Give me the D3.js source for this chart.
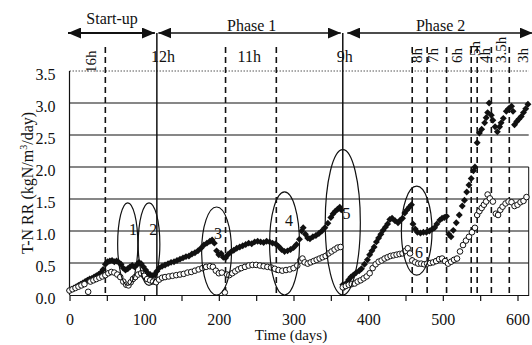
<!DOCTYPE html>
<html>
<head>
<meta charset="utf-8">
<script src="https://cdn.jsdelivr.net/npm/d3@7"></script>
<style>
  body { margin: 0; background: #fff; }
  text { font-family: "Liberation Serif", "Times New Roman", serif; fill: #111; }
</style>
</head>
<body>
<svg width="532" height="345"></svg>
<script>
// filled diamonds
const daysA = [0,3,6,9,12,15,18,21,24,27,30,33,36,39,42,45,48,51,54,57,60,63,66,69,72,75,78,81,84,87,90,93,96,99,102,105,108,111,114,117,120,124,128,132,136,140,144,148,152,156,160,164,168,172,176,180,184,188,191,194,197,200,203,206,209,212,216,220,224,228,232,236,240,244,248,252,256,260,264,268,272,276,280,284,288,292,296,300,304,308,311,313,316,319,322,326,330,334,338,342,346,350,353,356,359,362,364,366,368,371,374,377,380,384,388,391,395,399,402,405,408,411,414,417,420,423,426,429,432,436,440,443,446,449,452,455,458,460,463,466,470,474,478,482,486,489,492,496,499,502,505,508,511,514,518,522,526,529,532,535,538,541,543,546,549,552,556,558,560,562,565,567,570,573,576,578,581,585,588,592,594,596,599,602,605,608,611,614]
const rateA = [0.07,0.09,0.11,0.13,0.15,0.17,0.19,0.21,0.23,0.25,0.26,0.28,0.30,0.32,0.35,0.40,0.48,0.52,0.53,0.54,0.52,0.53,0.51,0.48,0.42,0.39,0.41,0.44,0.46,0.44,0.47,0.51,0.49,0.44,0.39,0.34,0.32,0.30,0.32,0.37,0.42,0.45,0.47,0.49,0.51,0.52,0.54,0.56,0.58,0.60,0.61,0.64,0.66,0.69,0.73,0.78,0.81,0.84,0.86,0.81,0.69,0.63,0.65,0.59,0.58,0.63,0.67,0.70,0.73,0.75,0.77,0.79,0.81,0.80,0.83,0.84,0.83,0.82,0.84,0.83,0.81,0.80,0.76,0.71,0.68,0.69,0.71,0.74,0.79,0.87,1.00,1.05,0.95,0.89,0.88,0.91,0.93,0.96,1.00,1.05,1.12,1.21,1.27,1.31,1.34,1.37,1.33,0.16,0.12,0.19,0.24,0.28,0.31,0.35,0.38,0.41,0.48,0.55,0.63,0.69,0.75,0.83,0.89,0.95,1.01,1.06,1.11,1.18,1.20,1.16,1.13,1.17,1.20,1.28,1.33,1.37,1.41,1.11,1.03,0.98,0.97,0.98,0.98,1.00,1.03,1.05,1.11,1.17,1.20,1.21,1.23,0.95,0.91,1.01,1.13,1.25,1.39,1.48,1.61,1.72,1.82,1.94,2.00,2.38,2.53,2.59,2.69,2.77,2.85,3.00,2.81,2.73,2.63,2.55,2.63,2.69,2.76,2.87,2.91,2.95,2.87,2.66,2.71,2.75,2.79,2.85,2.91,2.98]

// open circles
const daysB = [0,4,8,12,16,20,25,28,32,36,40,44,48,52,56,60,64,68,72,76,79,82,85,88,92,96,100,104,108,112,116,120,124,128,133,138,143,148,153,158,163,168,173,178,183,188,192,196,200,204,208,211,214,218,222,226,230,235,240,245,250,255,260,265,270,275,280,285,290,295,300,305,309,312,315,319,323,327,331,335,339,343,347,351,355,359,363,366,370,374,378,382,386,390,394,398,402,406,410,414,418,422,426,430,434,438,442,446,450,453,456,459,463,467,471,475,479,483,487,491,495,499,503,507,511,515,519,523,527,531,535,539,543,546,549,552,555,558,560,563,567,571,574,577,580,584,588,592,596,600,604,608,612]
const rateB = [0.07,0.09,0.11,0.13,0.15,0.17,0.05,0.21,0.23,0.25,0.27,0.29,0.31,0.34,0.36,0.35,0.32,0.28,0.21,0.16,0.15,0.20,0.25,0.28,0.32,0.34,0.30,0.25,0.23,0.21,0.20,0.24,0.27,0.28,0.29,0.30,0.31,0.32,0.33,0.35,0.36,0.38,0.40,0.42,0.44,0.45,0.44,0.38,0.34,0.35,0.04,0.32,0.31,0.34,0.37,0.40,0.42,0.44,0.46,0.47,0.47,0.46,0.45,0.44,0.43,0.41,0.39,0.38,0.39,0.40,0.42,0.46,0.54,0.57,0.51,0.49,0.51,0.53,0.55,0.57,0.59,0.61,0.65,0.68,0.71,0.74,0.75,0.12,0.14,0.16,0.17,0.18,0.21,0.23,0.26,0.29,0.34,0.42,0.48,0.52,0.54,0.57,0.59,0.61,0.62,0.63,0.64,0.65,0.69,0.73,0.65,0.54,0.51,0.49,0.49,0.48,0.49,0.50,0.51,0.53,0.56,0.57,0.53,0.49,0.52,0.55,0.57,0.68,0.78,0.85,0.91,0.98,1.05,1.25,1.31,1.36,1.41,1.46,1.57,1.51,1.46,1.27,1.25,1.33,1.38,1.43,1.46,1.45,1.39,1.41,1.45,1.47,1.53]

const yTicks = [0, 0.5, 1.0, 1.5, 2.0, 2.5, 3.0, 3.5]
const xTicks = [0, 50, 100, 150, 200, 250, 300, 350, 400, 450, 500, 550, 600]

// operating phases
const phaseNames = ["Start-up", "Phase 1", "Phase 2"]
const phaseStart = [0, 117, 370]
const phaseEnd = [117, 366, 623]
const phaseLabelDay = [57, 244, 497]

// HRT change lines
const solidDays = [117, 366]
const dashedDays = [48, 209, 277, 459, 479, 505, 538, 546, 565, 589]
const flatLabels = ["12h", "11h", "9h"]
const flatLabelDay = [109, 225, 358]
const upLabels = ["16h", "8h", "7h", "6h", "5h", "4h", "3.5h", "3h"]
const upLabelDay = [29, 466, 487, 519, 543, 556, 578, 607]

// circled events
const ringIds = ["1", "2", "3", "4", "5", "6"]
const ringDay = [78, 106.5, 197, 288, 366, 465]
const ringHalfDays = [13.5, 14.5, 20, 20, 23.5, 20.5]
const ringTop = [1.44, 1.44, 1.375, 1.61, 2.27, 1.70]
const ringBottom = [0.15, 0.15, 0.0, 0.0, 0.0, 0.31]
const ringLabelDay = [85, 112, 199, 294, 371, 468]
const ringLabelVal = [1.02, 1.02, 0.97, 1.17, 1.28, 0.67]

const svg = d3.select("svg")
const x = d3.scaleLinear().domain([0, 615]).range([69.5, 528.7])
const y = d3.scaleLinear().domain([0, 3.5]).range([295, 71])

// grid
svg.append("g")
  .selectAll("line")
  .data(yTicks.slice(1))
  .enter()
  .append("line")
  .attr("x1", x(0))
  .attr("x2", x(615))
  .attr("y1", (d) => y(d))
  .attr("y2", (d) => y(d))
  .attr("stroke", (d) => (d === 3.5 ? "#555" : "#111"))
  .attr("stroke-width", (d) => (d === 3.5 ? 1 : 1.2))
  .attr("stroke-dasharray", (d) => (d === 3.5 ? "1.5,1.5" : null))

// left and right frame
svg.append("line")
  .attr("x1", x(0)).attr("x2", x(0))
  .attr("y1", y(0)).attr("y2", y(3.5))
  .attr("stroke", "#111").attr("stroke-width", 1.2)
svg.append("line")
  .attr("x1", x(615)).attr("x2", x(615))
  .attr("y1", y(0)).attr("y2", y(2.0))
  .attr("stroke", "#111").attr("stroke-width", 1)

// axes
const xAxis = svg.append("g")
  .attr("transform", "translate(0," + y(0) + ")")
  .call(d3.axisBottom(x).tickValues(xTicks).tickSize(6).tickSizeOuter(0).tickPadding(13)
    .tickFormat((d) => (d % 100 ? "" : d)))
xAxis.selectAll("text").style("font-size", "16px").attr("fill", "#111")
xAxis.selectAll("line, path").attr("stroke", "#111").attr("stroke-width", 1.2)

const yAxis = svg.append("g")
  .attr("transform", "translate(" + x(0) + ",0)")
  .call(d3.axisLeft(y).tickValues(yTicks).tickSize(0).tickPadding(14).tickFormat(d3.format(".1f")))
yAxis.select(".domain").remove()
yAxis.selectAll("text").style("font-size", "16px").attr("fill", "#111").attr("dy", "0.5em")

svg.append("text")
  .attr("x", 291).attr("y", 340)
  .attr("text-anchor", "middle")
  .style("font-size", "15px")
  .text("Time (days)")

const yTitle = svg.append("text")
  .attr("transform", "translate(33,183) rotate(-90)")
  .attr("text-anchor", "middle")
  .style("font-size", "16px")
yTitle.append("tspan").text("T-N RR (kgN/m")
yTitle.append("tspan").attr("dy", -6).style("font-size", "10px").text("3")
yTitle.append("tspan").attr("dy", 6).text("/day)")

// HRT lines
svg.append("g")
  .selectAll("line")
  .data(dashedDays)
  .enter()
  .append("line")
  .attr("x1", (d) => x(d)).attr("x2", (d) => x(d))
  .attr("y1", 47).attr("y2", y(0))
  .attr("stroke", "#111").attr("stroke-width", 1.6)
  .attr("stroke-dasharray", "6,4")

svg.append("g")
  .selectAll("line")
  .data(solidDays)
  .enter()
  .append("line")
  .attr("x1", (d) => x(d)).attr("x2", (d) => x(d))
  .attr("y1", 33).attr("y2", y(0))
  .attr("stroke", "#111").attr("stroke-width", 1.5)

svg.append("g")
  .selectAll("text")
  .data(flatLabels)
  .enter()
  .append("text")
  .attr("x", (d, i) => x(flatLabelDay[i]))
  .attr("y", 62)
  .style("font-size", "16px")
  .text((d) => d)

svg.append("g")
  .selectAll("text")
  .data(upLabels)
  .enter()
  .append("text")
  .attr("transform", (d, i) => "translate(" + (x(upLabelDay[i]) + 5) + "," + (d === "16h" ? 73 : d === "5h" ? 56 : 63) + ") rotate(-90)")
  .style("font-size", "15px")
  .text((d) => d)

// phase arrows
const defs = svg.append("defs")
defs.append("marker")
  .attr("id", "head")
  .attr("viewBox", "0 0 13 11")
  .attr("markerUnits", "userSpaceOnUse")
  .attr("markerWidth", 13).attr("markerHeight", 11)
  .attr("refX", 13).attr("refY", 5.5)
  .attr("orient", "auto-start-reverse")
  .append("path")
  .attr("d", "M0,0L13,5.5L0,11Z")
  .attr("fill", "#111")

svg.append("g")
  .selectAll("line")
  .data(phaseNames)
  .enter()
  .append("line")
  .attr("x1", (d, i) => x(phaseStart[i]) + (i === 0 ? -1.5 : 1.5))
  .attr("x2", (d, i) => x(phaseEnd[i]) - 2)
  .attr("y1", 33).attr("y2", 33)
  .attr("stroke", "#111")
  .attr("stroke-width", (d, i) => (i === 0 ? 2.2 : 1.6))
  .attr("marker-start", "url(#head)")
  .attr("marker-end", "url(#head)")

svg.append("g")
  .selectAll("text")
  .data(phaseNames)
  .enter()
  .append("text")
  .attr("x", (d, i) => x(phaseLabelDay[i]))
  .attr("y", (d, i) => (i === 0 ? 24 : 31))
  .attr("text-anchor", "middle")
  .style("font-size", "16px")
  .text((d) => d)

// data points
const diamond = d3.symbol().type(d3.symbolSquare).size(24)
svg.append("g")
  .selectAll("path")
  .data(daysA)
  .enter()
  .append("path")
  .attr("d", diamond)
  .attr("transform", (d, i) => "translate(" + x(d) + "," + y(rateA[i]) + ") rotate(45)")
  .attr("fill", "#111")

svg.append("g")
  .selectAll("circle")
  .data(daysB)
  .enter()
  .append("circle")
  .attr("cx", (d) => x(d))
  .attr("cy", (d, i) => y(rateB[i]))
  .attr("r", 2.8)
  .attr("fill", "#fff")
  .attr("stroke", "#111")
  .attr("stroke-width", 1)

// circled events
svg.append("g")
  .selectAll("ellipse")
  .data(ringIds)
  .enter()
  .append("ellipse")
  .attr("cx", (d, i) => x(ringDay[i]))
  .attr("cy", (d, i) => y((ringTop[i] + ringBottom[i]) / 2))
  .attr("rx", (d, i) => x(ringHalfDays[i]) - x(0))
  .attr("ry", (d, i) => y(ringBottom[i]) - y((ringTop[i] + ringBottom[i]) / 2))
  .attr("fill", "none")
  .attr("stroke", "#111")
  .attr("stroke-width", 1.2)

svg.append("g")
  .selectAll("text")
  .data(ringIds)
  .enter()
  .append("text")
  .attr("x", (d, i) => x(ringLabelDay[i]))
  .attr("y", (d, i) => y(ringLabelVal[i]))
  .attr("dy", "0.35em")
  .attr("text-anchor", "middle")
  .style("font-size", "16px")
  .text((d) => d)
</script>
</body>
</html>
